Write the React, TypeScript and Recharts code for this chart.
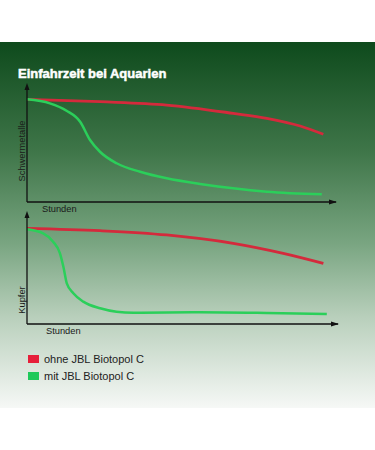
import React from "react";
import { LineChart, Line, XAxis, YAxis, ReferenceDot } from "recharts";

// Schwermetalle (heavy metals) over time, 0-100 relative scale
const metalsWithout = [
  { x: 0, y: 89.3 },
  { x: 23.6, y: 87.2 },
  { x: 45.2, y: 84.3 },
  { x: 66.7, y: 77.1 },
  { x: 77.6, y: 72.8 },
  { x: 88.4, y: 66.1 },
  { x: 95.9, y: 58.9 },
];
const metalsWith = [
  { x: 0, y: 89.3 },
  { x: 7.4, y: 85.8 },
  { x: 12.8, y: 79.4 },
  { x: 17.2, y: 69.8 },
  { x: 20.4, y: 53.9 },
  { x: 23.6, y: 43.7 },
  { x: 29.0, y: 33.7 },
  { x: 36.6, y: 26.3 },
  { x: 45.2, y: 20.6 },
  { x: 56.0, y: 15.7 },
  { x: 66.7, y: 11.9 },
  { x: 77.6, y: 9.0 },
  { x: 95.4, y: 6.7 },
];

// Kupfer (copper) over time
const copperWithout = [
  { x: 0, y: 87.8 },
  { x: 23.5, y: 85.6 },
  { x: 44.9, y: 81.7 },
  { x: 66.3, y: 74.0 },
  { x: 82.4, y: 64.8 },
  { x: 95.3, y: 55.6 },
];
const copperWith = [
  { x: 0, y: 86.9 },
  { x: 5.2, y: 83.2 },
  { x: 8.4, y: 75.5 },
  { x: 10.6, y: 64.9 },
  { x: 11.7, y: 52.6 },
  { x: 12.8, y: 37.3 },
  { x: 14.9, y: 28.2 },
  { x: 18.1, y: 20.5 },
  { x: 23.5, y: 14.4 },
  { x: 28.8, y: 11.3 },
  { x: 34.2, y: 10.4 },
  { x: 55.6, y: 10.7 },
  { x: 77.1, y: 10.1 },
  { x: 96.4, y: 9.2 },
];

const seriesNames = ["ohne JBL Biotopol C", "mit JBL Biotopol C"];
const seriesColors = ["#d42a3c", "#2bcf5a"];
const legendColors = ["#e61f3a", "#1ec95a"];

const font = "'Liberation Sans', Arial, sans-serif";
const axisColor = "#111";

// little arrow heads at the end of the axes
const ArrowUp = (p: any) => (
  <path d={`M${p.cx},${p.cy - 4} L${p.cx - 2.5},${p.cy + 3} L${p.cx + 2.5},${p.cy + 3} Z`} fill={axisColor} />
);
const ArrowRight = (p: any) => (
  <path d={`M${p.cx + 1},${p.cy} L${p.cx - 7},${p.cy - 2.5} L${p.cx - 7},${p.cy + 2.5} Z`} fill={axisColor} />
);

interface PanelProps {
  top: number;
  height: number;
  marginTop: number;
  marginRight: number;
  yLabel: string;
  yLabelCenter: number; // offset from plot top
  xLabelDx: number;
  without: { x: number; y: number }[];
  withC: { x: number; y: number }[];
}

function Panel(props: PanelProps) {
  const { top, height, marginTop, marginRight, yLabel, yLabelCenter, xLabelDx, without, withC } = props;
  return (
    <div style={{ position: "absolute", left: 0, top }}>
      <LineChart width={375} height={height} margin={{ top: marginTop, right: marginRight, bottom: 0, left: 0 }}>
        <XAxis
          type="number"
          dataKey="x"
          domain={[0, 100]}
          tick={false}
          tickLine={false}
          height={13}
          axisLine={{ stroke: axisColor, strokeWidth: 1.3 }}
          label={{
            content: (lp: any) => (
              <text
                x={lp.viewBox.x + xLabelDx}
                y={lp.viewBox.y + 9.5}
                fontSize={9.3}
                fontFamily={font}
                fill="#1a1a1a"
              >
                Stunden
              </text>
            ),
          }}
        />
        <YAxis
          type="number"
          domain={[0, 100]}
          tick={false}
          tickLine={false}
          width={27}
          axisLine={{ stroke: axisColor, strokeWidth: 1.3 }}
          label={{
            content: (lp: any) => {
              const cx = 25;
              const cy = lp.viewBox.y + yLabelCenter;
              return (
                <text
                  x={cx}
                  y={cy}
                  transform={`rotate(-90 ${cx} ${cy})`}
                  textAnchor="middle"
                  fontSize={9.3}
                  fontFamily={font}
                  fill="#1a1a1a"
                >
                  {yLabel}
                </text>
              );
            },
          }}
        />
        <Line
          data={without}
          dataKey="y"
          type="monotone"
          stroke={seriesColors[0]}
          strokeWidth={2.8}
          dot={false}
          isAnimationActive={false}
        />
        <Line
          data={withC}
          dataKey="y"
          type="monotone"
          stroke={seriesColors[1]}
          strokeWidth={2.5}
          dot={false}
          isAnimationActive={false}
        />
        <ReferenceDot x={0} y={100} ifOverflow="visible" shape={ArrowUp} />
        <ReferenceDot x={100} y={0} ifOverflow="visible" shape={ArrowRight} />
      </LineChart>
    </div>
  );
}

export default function App() {
  return (
    <div style={{ position: "absolute", left: 0, top: 0, width: 375, height: 450, background: "#fff", overflow: "hidden" }}>
      <div
        style={{
          position: "absolute",
          left: 0,
          top: 42,
          width: 375,
          height: 366,
          background: "linear-gradient(to bottom, #0e4a1c 0%, #3f7649 30%, #79a581 55%, #b8cfbb 75%, #f6f8f6 100%)",
        }}
      />
      <div
        style={{
          position: "absolute",
          left: 18,
          top: 66,
          color: "#fff",
          fontFamily: font,
          fontWeight: 700,
          fontSize: 13,
          WebkitTextStroke: "0.5px #fff",
        }}
      >
        Einfahrzeit bei Aquarien
      </div>
      <Panel
        top={80}
        height={135}
        marginTop={7}
        marginRight={39}
        yLabel="Schwermetalle"
        yLabelCenter={64}
        xLabelDx={15}
        without={metalsWithout}
        withC={metalsWith}
      />
      <Panel
        top={205}
        height={132}
        marginTop={10}
        marginRight={37}
        yLabel="Kupfer"
        yLabelCenter={85}
        xLabelDx={19}
        without={copperWithout}
        withC={copperWith}
      />
      <div style={{ position: "absolute", left: 28, top: 350, fontFamily: font, fontSize: 11, color: "#222" }}>
        {seriesNames.map((name, i) => (
          <div key={name} style={{ display: "flex", alignItems: "center", height: 17 }}>
            <span style={{ display: "inline-block", width: 11, height: 8, background: legendColors[i], marginRight: 5 }} />
            {name}
          </div>
        ))}
      </div>
    </div>
  );
}
